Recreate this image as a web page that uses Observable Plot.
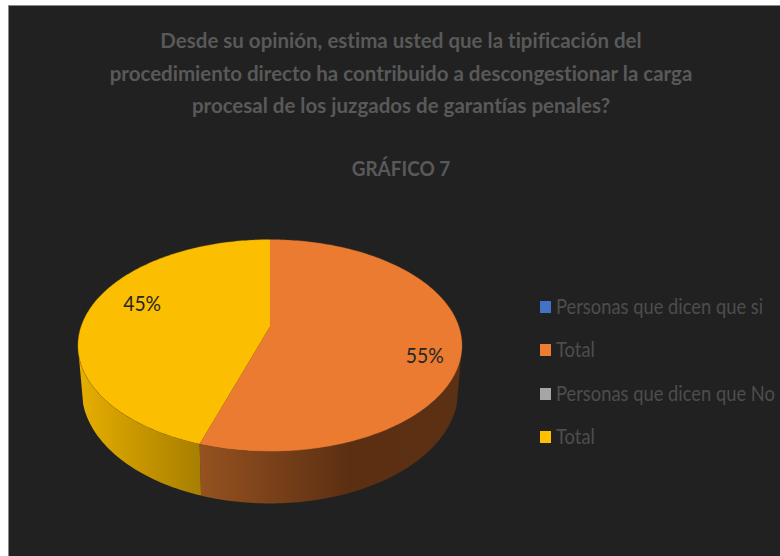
<!DOCTYPE html>
<html>
<head>
<meta charset="utf-8">
<script src="https://cdn.jsdelivr.net/npm/d3@7"></script>
<script src="https://cdn.jsdelivr.net/npm/@observablehq/plot@0.6"></script>
<style>
  html, body { margin: 0; padding: 0; background: #fff; width: 780px; height: 556px; overflow: hidden; }
  #panel { position: absolute; left: 8px; top: 5px; width: 772px; height: 551px; background: #212121;
           border-left: 1px solid #8a8a8a; border-top: 1px solid #8a8a8a; box-sizing: border-box; }
  #chart { position: absolute; left: 0; top: 0; }
  #chart svg { display: block; background: transparent; }
  #title { position: absolute; left: 0; top: 24px; width: 802px; text-align: center; font-family: Lato, sans-serif;
           font-weight: 700; font-size: 20.5px; line-height: 32.5px; color: #595959; margin: 0;
           font-variant-ligatures: none; }
  #title .sub { display: block; margin-top: 30px; transform: scaleX(0.925); }
  #legend { position: absolute; left: 540px; top: 285px; font-family: Lato, sans-serif; font-size: 20.5px; color: #4d4d4d;
            font-variant-ligatures: none; }
  .item { position: absolute; left: 0; height: 44px; white-space: nowrap; }
  .item i { position: absolute; left: 0; width: 11px; height: 12px; }
  .item span { position: absolute; left: 16px; transform: scaleX(0.895); transform-origin: left center; }
</style>
</head>
<body>
<div id="panel"></div>
<div id="chart"></div>
<h1 id="title"></h1>
<div id="legend"></div>
<script>
const titleLines = [
  "Desde su opinión, estima usted que la tipificación del",
  "procedimiento directo ha contribuido a descongestionar la carga",
  "procesal de los juzgados de garantías penales?"
];
const subtitle = "GRÁFICO 7";
const legendLabels = ["Personas que dicen que si", "Total", "Personas que dicen que No", "Total"];
const legendColors = ["#4472C4", "#ED7D31", "#A5A5A5", "#FFC000"];
const sliceValues = [55, 45];
const sliceColors = ["#EA7B31", "#FCBE00"];
const sliceLabels = ["55%", "45%"];

// Perspective view of the pie's top and bottom discs
const W = 780, H = 556;
const persp = 0.179, rimScaleX = 0.98, rimScaleY = 1.066, rimDrop = 0.426, rimTangentGap = 7;
function topPt(deg, r = 1) {
  const t = deg * Math.PI / 180, u = r * Math.sin(t), v = r * Math.cos(t), d = 1 + persp * v;
  return {x: u / d, y: v / d};
}
function rimPt(deg) {
  const p = topPt(deg);
  return {x: p.x * rimScaleX, y: p.y * rimScaleY - rimDrop};
}
function sweep(a, b, step = 1) {
  const n = Math.max(2, Math.ceil(Math.abs(b - a) / step));
  return d3.range(n + 1).map(i => a + (b - a) * i / n);
}

const total = d3.sum(sliceValues);
const seam = sliceValues[0] / total * 360;
const rightTan = 180 - (Math.acos(persp) * 180 / Math.PI);
const leftTan = 360 - rightTan;

const topSlice = (a, b) => [{x: 0, y: 0}, ...sweep(a, b).map(d => topPt(d))];
const orangeTop = topSlice(0, seam);
const yellowTop = topSlice(seam, 360);
const orangeWall = [...sweep(rightTan, seam).map(d => topPt(d)), ...sweep(seam, rightTan + rimTangentGap).map(rimPt)];
const yellowWall = [...sweep(seam, leftTan).map(d => topPt(d)), ...sweep(leftTan - rimTangentGap, seam).map(rimPt)];
const orangeEdge = sweep(0, seam).map(d => topPt(d));
const yellowEdge = sweep(seam, 360).map(d => topPt(d));

const mid0 = seam / 2, mid1 = seam + (360 - seam) / 2;
const label55 = [{...topPt(mid0, 0.81), t: sliceLabels[0]}];
const label45 = [{...topPt(mid1, 0.81), t: sliceLabels[1]}];

const fillOpts = fill => ({x: "x", y: "y", fill, stroke: "none", curve: "linear-closed"});
const edgeOpts = stroke => ({x: "x", y: "y", stroke, strokeWidth: 1, strokeOpacity: 0.3, curve: "linear"});
const labelOpts = {x: "x", y: "y", text: "t", fontSize: 21.5, fontFamily: "Lato, sans-serif", fill: "#262626"};

const plot = Plot.plot({
  width: W, height: H,
  margin: 0,
  style: {background: "transparent"},
  x: {axis: null, domain: [-269.5 / 189, 510.5 / 189], range: [0, W]},
  y: {axis: null, domain: [(326 - H) / 102.6, 326 / 102.6], range: [H, 0]},
  marks: [
    Plot.line(orangeWall, fillOpts("url(#wallOrange)")),
    Plot.line(yellowWall, fillOpts("url(#wallYellow)")),
    Plot.line(orangeTop, fillOpts(sliceColors[0])),
    Plot.line(yellowTop, fillOpts(sliceColors[1])),
    Plot.line(orangeEdge, edgeOpts("#7a4420")),
    Plot.line(yellowEdge, edgeOpts("#8a6a00")),
    Plot.text(label55, {...labelOpts, dy: 16}),
    Plot.text(label45, {...labelOpts, dx: 20, dy: -10})
  ]
});

const defs = d3.select(plot).insert("defs", ":first-child");
function gradient(id, x1, x2, stops) {
  const g = defs.append("linearGradient").attr("id", id).attr("gradientUnits", "userSpaceOnUse")
    .attr("x1", x1).attr("x2", x2).attr("y1", 0).attr("y2", 0);
  stops.forEach(([o, c]) => g.append("stop").attr("offset", o).attr("stop-color", c));
}
gradient("wallOrange", 199, 460, [[0, "#96521f"], [0.57, "#5c2f13"], [1, "#5c3013"]]);
gradient("wallYellow", 78, 199, [[0, "#e6ae00"], [1, "#a87f00"]]);
d3.select(plot).selectAll("text").attr("textLength", 38).attr("lengthAdjust", "spacingAndGlyphs");
document.getElementById("chart").appendChild(plot);

const title = document.getElementById("title");
title.innerHTML = titleLines.join("<br>");
const sub = document.createElement("span");
sub.className = "sub";
sub.textContent = subtitle;
title.appendChild(sub);

const legend = document.getElementById("legend");
legendLabels.forEach((label, i) => {
  const item = document.createElement("div");
  item.className = "item";
  item.style.top = (i * 43.4) + "px";
  item.innerHTML = `<i style="background:${legendColors[i]};top:16px"></i><span style="top:9px"></span>`;
  item.querySelector("span").textContent = label;
  legend.appendChild(item);
});
</script>
</body>
</html>
